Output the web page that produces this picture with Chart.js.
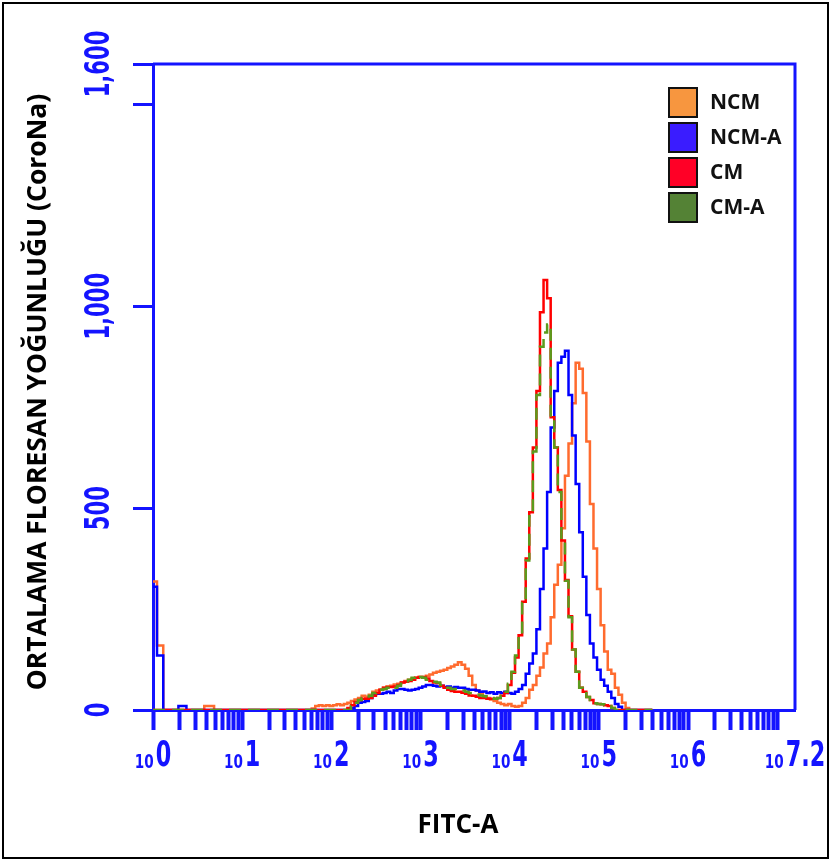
<!DOCTYPE html>
<html>
<head>
<meta charset="utf-8">
<script src="https://cdn.jsdelivr.net/npm/chart.js@4.4.1/dist/chart.umd.min.js"></script>
<style>
  html, body { margin: 0; padding: 0; background: #fff; }
  canvas { display: block; }
</style>
</head>
<body>
<canvas id="histo" width="832" height="863"></canvas>
<script>
// FITC-A channel, as log10 of the value (bin centres)
const fitcExp = [
  0.00, 0.09, 0.14, 0.24, 0.33, 0.42, 0.52, 0.63, 0.74,
  1.60, 1.64, 1.68, 1.72, 1.76, 1.80, 1.84, 1.88, 1.92, 1.96,
  2.00, 2.04, 2.08, 2.12, 2.16, 2.20, 2.24, 2.28, 2.32, 2.36,
  2.40, 2.44, 2.48, 2.52, 2.56, 2.60, 2.64, 2.68, 2.72, 2.76,
  2.80, 2.84, 2.88, 2.92, 2.96, 3.00, 3.04, 3.08, 3.12, 3.16,
  3.20, 3.24, 3.28, 3.32, 3.36, 3.40, 3.44, 3.48, 3.52, 3.56,
  3.60, 3.64, 3.68, 3.72, 3.76, 3.80, 3.84, 3.88, 3.92, 3.96,
  4.00, 4.04, 4.08, 4.12, 4.16, 4.20, 4.24, 4.28, 4.32, 4.36,
  4.40, 4.44, 4.48, 4.52, 4.56, 4.60, 4.64, 4.68, 4.72, 4.76,
  4.80, 4.84, 4.88, 4.92, 4.96, 5.00, 5.04, 5.08, 5.12, 5.16,
  5.20, 5.24, 5.28, 5.32, 5.36, 5.40, 5.44, 5.48, 5.52, 5.56,
  5.60
];

// counts per bin, one list per sample
const ncm = [
  318, 160, 0, 0, 0, 0, 0, 10, 0,
  0, 0, 0, 0, 0, 4, 10, 12, 10, 12,
  10, 12, 14, 12, 15, 18, 22, 26, 30, 35,
  33, 38, 45, 48, 50, 55, 58, 60, 63, 65,
  68, 72, 75, 78, 80, 82, 80, 85, 88, 92,
  95, 97, 100, 104, 108, 112, 118, 112, 102, 85,
  62, 48, 40, 34, 30, 26, 22, 18, 15, 12,
  15, 10, 8, 10, 18, 30, 50, 62, 85, 105,
  140, 165, 230, 310, 360, 450, 580, 660, 760, 860,
  845, 785, 665, 510, 400, 300, 210, 145, 100, 90,
  55, 38, 18, 5, 0, 0, 0, 0, 0, 0,
  0
];
const ncmA = [
  305, 135, 0, 0, 10, 0, 0, 0, 0,
  0, 0, 0, 0, 0, 0, 0, 0, 0, 0,
  0, 0, 0, 0, 0, 0, 5, 10, 18, 20,
  22, 30, 38, 40, 40, 42, 45, 42, 48, 52,
  52, 50, 48, 50, 52, 55, 58, 62, 62, 60,
  58, 60, 57, 58, 55, 57, 55, 55, 52, 50,
  50, 48, 45, 46, 42, 44, 40, 44, 42, 45,
  42, 40, 45, 52, 62, 90, 115, 140, 200, 300,
  400, 540, 700, 790, 860, 875, 890, 780, 680, 560,
  440, 330, 235, 165, 130, 100, 75, 60, 45, 30,
  15, 8, 0, 0, 0, 0, 0, 0, 0, 0,
  0
];
const cm = [
  0, 0, 0, 0, 0, 0, 0, 0, 0,
  0, 0, 0, 0, 0, 0, 0, 0, 0, 0,
  0, 0, 0, 0, 0, 5, 12, 20, 25, 28,
  28, 30, 35, 42, 50, 55, 57, 57, 58, 62,
  68, 70, 72, 75, 80, 82, 82, 78, 72, 68,
  67, 60, 55, 50, 47, 45, 45, 43, 40, 36,
  35, 33, 30, 30, 28, 28, 28, 30, 35, 42,
  62, 92, 130, 185, 268, 375, 490, 650, 790, 985,
  1065, 1020, 725, 650, 545, 420, 322, 232, 150, 95,
  55, 45, 32, 25, 17, 15, 14, 12, 10, 5,
  0, 0, 0, 0, 0, 0, 0, 0, 0, 0,
  0
];
const cmA = [
  0, 0, 0, 0, 0, 0, 0, 0, 0,
  0, 0, 0, 0, 0, 0, 0, 0, 0, 0,
  0, 0, 0, 0, 0, 0, 10, 18, 25, 30,
  30, 35, 42, 48, 50, 52, 55, 52, 55, 60,
  65, 68, 75, 80, 85, 82, 80, 75, 72, 70,
  68, 62, 58, 55, 52, 52, 50, 48, 45, 42,
  40, 38, 36, 34, 32, 30, 28, 30, 35, 45,
  65, 95, 135, 185, 265, 370, 480, 640, 780, 900,
  935, 955, 725, 650, 540, 420, 320, 230, 150, 95,
  55, 45, 32, 25, 17, 15, 14, 12, 10, 5,
  0, 0, 0, 0, 0, 0, 0, 0, 0, 0,
  0
];

const seriesNames = ["NCM", "NCM-A", "CM", "CM-A"];
const lineColors = ["#ff6b2e", "#0000ff", "#ff0000", "#5b9b1c"];
const legendColors = ["#f7963f", "#3a1cff", "#ff0026", "#548235"];

const yTickValues = [0, 500, 1000, 1500, 1600];
const yTickLabels = ["0", "500", "1,000", "", "1,600"];
const xLabelExps = ["0", "1", "2", "3", "4", "5", "6", "7.2"];

const AXIS_BLUE = "#1414ff";

function points(values) {
  return fitcExp.map((e, i) => ({ x: Math.pow(10, e), y: values[i] }));
}

function squeezedText(ctx, text, x, y, sx) {
  ctx.save();
  ctx.translate(x, y);
  ctx.scale(sx, 1);
  ctx.fillText(text, 0, 0);
  ctx.restore();
}

const decor = {
  id: "decor",
  beforeDraw(chart) {
    const ctx = chart.ctx;
    ctx.save();
    ctx.fillStyle = "#fff";
    ctx.fillRect(0, 0, chart.width, chart.height);
    ctx.restore();
  },
  afterDraw(chart) {
    const { ctx, chartArea: a, scales } = chart;
    ctx.save();

    // rest of the blue frame
    ctx.strokeStyle = AXIS_BLUE;
    ctx.lineWidth = 3;
    ctx.beginPath();
    ctx.moveTo(a.left, a.top);
    ctx.lineTo(a.right, a.top);
    ctx.lineTo(a.right, a.bottom);
    ctx.stroke();

    // y tick labels, turned on their side
    ctx.fillStyle = AXIS_BLUE;
    ctx.font = "bold 34px 'DejaVu Sans'";
    ctx.textAlign = "center";
    ctx.textBaseline = "middle";
    yTickValues.forEach((v, i) => {
      if (!yTickLabels[i]) return;
      const py = scales.y.getPixelForValue(v);
      ctx.save();
      ctx.translate(100, py);
      ctx.rotate(-Math.PI / 2);
      ctx.scale(0.62, 1);
      ctx.fillText(yTickLabels[i], 0, 0);
      ctx.restore();
    });

    // x tick labels: small "10" + big exponent
    ctx.textAlign = "left";
    ctx.textBaseline = "alphabetic";
    xLabelExps.forEach((ex) => {
      const px = scales.x.getPixelForValue(Math.pow(10, parseFloat(ex)));
      ctx.font = "bold 20px 'DejaVu Sans'";
      const w1 = ctx.measureText("10").width * 0.68;
      ctx.font = "bold 36px 'DejaVu Sans'";
      const w2 = ctx.measureText(ex).width * 0.62;
      const left = px - (w1 + 2 + w2) / 2;
      ctx.font = "bold 20px 'DejaVu Sans'";
      squeezedText(ctx, "10", left, 768, 0.68);
      ctx.font = "bold 36px 'DejaVu Sans'";
      squeezedText(ctx, ex, left + w1 + 2, 766, 0.62);
    });

    // axis titles
    ctx.fillStyle = "#000";
    ctx.font = "bold 26px 'Open Sans'";
    ctx.textAlign = "center";
    ctx.textBaseline = "middle";
    ctx.fillText("FITC-A", 458, 826);
    ctx.save();
    ctx.translate(38, 392);
    ctx.rotate(-Math.PI / 2);
    ctx.font = "bold 26.5px 'Open Sans'";
    ctx.fillText("ORTALAMA FLORESAN YOĞUNLUĞU (CoroNa)", 0, 0);
    ctx.restore();

    // legend
    ctx.textAlign = "left";
    ctx.font = "bold 21px 'Open Sans'";
    seriesNames.forEach((name, i) => {
      const top = 88 + i * 35;
      ctx.fillStyle = legendColors[i];
      ctx.fillRect(669, top, 28, 29);
      ctx.strokeStyle = "#111";
      ctx.lineWidth = 2;
      ctx.strokeRect(669, top, 28, 29);
      ctx.fillStyle = "#111";
      ctx.fillText(name, 710, top + 15);
    });

    // outer box
    ctx.strokeStyle = "#000";
    ctx.lineWidth = 2;
    ctx.strokeRect(3, 3, 825, 855);
    ctx.restore();
  },
};

// green on top (dashed so the red under it shows), then red, blue, orange
const orders = [3, 2, 1, 0];
const allSeries = [ncm, ncmA, cm, cmA];

new Chart(document.getElementById("histo"), {
  type: "line",
  data: {
    datasets: allSeries.map((vals, i) => ({
      label: seriesNames[i],
      data: points(vals),
      borderColor: lineColors[i],
      borderWidth: 2.5,
      borderDash: i === 3 ? [12, 7] : [],
      stepped: "middle",
      pointRadius: 0,
      fill: false,
      order: orders[i],
    })),
  },
  options: {
    responsive: false,
    animation: false,
    layout: { padding: { left: 0, top: 64, right: 37, bottom: 0 } },
    plugins: { legend: { display: false }, tooltip: { enabled: false } },
    scales: {
      x: {
        type: "logarithmic",
        min: 1,
        max: Math.pow(10, 7.2),
        afterBuildTicks(scale) {
          const list = [];
          for (let k = 0; k <= 6; k++) {
            for (let m = 1; m <= 9; m++) list.push(m * Math.pow(10, k));
          }
          list.push(Math.pow(10, 7));
          scale.ticks = list.map((v) => ({ value: v }));
        },
        afterFit(scale) { scale.height = 153; },
        ticks: { display: false },
        grid: { drawOnChartArea: false, drawTicks: true, tickLength: 20, tickWidth: 4, tickColor: AXIS_BLUE },
        border: { display: true, color: AXIS_BLUE, width: 3 },
      },
      y: {
        type: "linear",
        min: 0,
        max: 1600,
        afterBuildTicks(scale) {
          scale.ticks = yTickValues.map((v) => ({ value: v }));
        },
        afterFit(scale) { scale.width = 153; },
        ticks: { display: false },
        grid: { drawOnChartArea: false, drawTicks: true, tickLength: 20, tickWidth: 3, tickColor: AXIS_BLUE },
        border: { display: true, color: AXIS_BLUE, width: 3 },
      },
    },
  },
  plugins: [decor],
});
</script>
</body>
</html>
